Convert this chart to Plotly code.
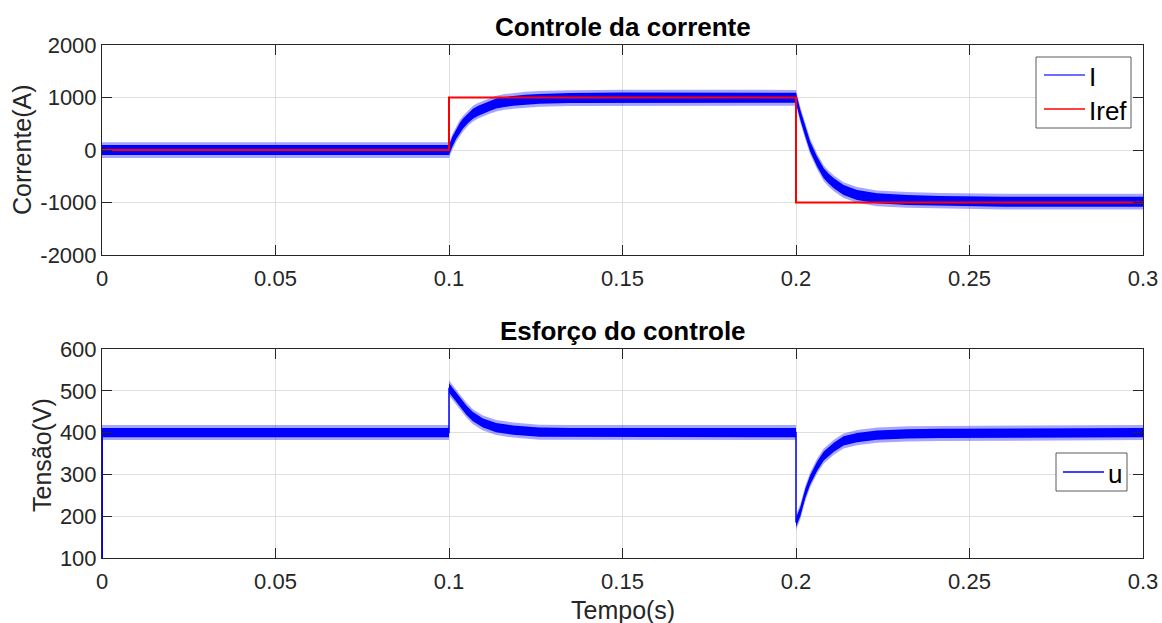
import plotly.graph_objects as go

# ---------------- data ----------------
# Current I: centre of the ripple band and ripple half-widths (A)
t_I = [0, 0.1, 0.1010, 0.1021, 0.1031, 0.104, 0.1055, 0.1069, 0.1083, 0.1098, 0.1117,
       0.1136, 0.116, 0.1185, 0.122, 0.126, 0.1348, 0.15, 0.2,
       0.20125, 0.2027, 0.2041, 0.2061, 0.208, 0.2094, 0.2109, 0.2137, 0.2176,
       0.2233, 0.232, 0.2416, 0.26, 0.3]
I_mid = [0, 0, 160, 308, 420, 500, 610, 692, 745, 788, 840,
         885, 915, 936, 958, 974, 990, 1000, 995,
         667, 349, 63, -222, -444, -545, -635, -762, -857,
         -920, -952, -971, -985, -985]
I_ripple_outer = 150
I_ripple_inner = 95

# Reference current Iref (A)
t_ref = [0, 0.1, 0.1, 0.2, 0.2, 0.3]
I_ref = [0, 0, 1000, 1000, -1000, -1000]

# Control effort u: centre of the ripple band (V)
t_u = [0, 0.1, 0.1, 0.1012, 0.1031, 0.105, 0.1069, 0.1098, 0.1136, 0.1185, 0.126, 0.135,
       0.2, 0.2, 0.20125, 0.2027, 0.2041, 0.2061, 0.208, 0.2109, 0.2137, 0.2176,
       0.2233, 0.232, 0.2416, 0.3]
u_mid = [400, 400, 507, 495, 474, 454, 438, 423, 412, 406, 401, 400,
         400, 185, 211, 255, 287, 320, 344, 365, 380, 388,
         394, 397, 398, 400]
u_ripple_outer = 18
u_ripple_inner = 11
# initial jump of u at t = 0
t_u_start = [0, 0]
u_start = [100, 400]

x_ticks = [0, 0.05, 0.1, 0.15, 0.2, 0.25, 0.3]
x_tick_labels = ["0", "0.05", "0.1", "0.15", "0.2", "0.25", "0.3"]
I_ticks = [-2000, -1000, 0, 1000, 2000]
I_tick_labels = ["-2000", "-1000", "0", "1000", "2000"]
u_ticks = [100, 200, 300, 400, 500, 600]
u_tick_labels = ["100", "200", "300", "400", "500", "600"]

# ---------------- figure ----------------
FONT = "Liberation Sans, Arial, sans-serif"
DARK = "rgb(38,38,38)"
GRID = "rgb(223,223,223)"
BLUE = "rgb(0,0,255)"
RED = "rgb(255,0,0)"

H, W = 623, 1162
mt, mb, ml, mr = 45, 65, 102, 19
ph = H - mt - mb
pw = W - ml - mr


def px(X):
    return (X - ml) / pw


def py(Y):
    return (H - mb - Y) / ph


def band(t, mid, half, color, xa, ya):
    up = [m + half for m in mid]
    lo = [m - half for m in mid]
    return go.Scatter(x=list(t) + list(t)[::-1], y=up + lo[::-1], fill="toself",
                      fillcolor=color, line=dict(width=0), mode="lines",
                      hoverinfo="skip", showlegend=False, xaxis=xa, yaxis=ya)


fig = go.Figure()
# current
fig.add_trace(band(t_I, I_mid, I_ripple_outer, "rgba(0,0,255,0.35)", "x", "y"))
fig.add_trace(band(t_I, I_mid, I_ripple_inner, BLUE, "x", "y"))
fig.add_trace(go.Scatter(x=t_I, y=I_mid, mode="lines", name="I",
                         line=dict(color=BLUE, width=1.5),
                         xaxis="x", yaxis="y", showlegend=False))
fig.add_trace(go.Scatter(x=t_ref, y=I_ref, mode="lines", name="Iref",
                         line=dict(color=RED, width=2),
                         xaxis="x", yaxis="y", showlegend=False))
# control effort
fig.add_trace(band(t_u, u_mid, u_ripple_outer, "rgba(0,0,255,0.35)", "x2", "y2"))
fig.add_trace(band(t_u, u_mid, u_ripple_inner, BLUE, "x2", "y2"))
fig.add_trace(go.Scatter(x=t_u_start, y=u_start, mode="lines", showlegend=False,
                         line=dict(color=BLUE, width=2),
                         xaxis="x2", yaxis="y2", hoverinfo="skip"))
fig.add_trace(go.Scatter(x=t_u, y=u_mid, mode="lines", name="u",
                         line=dict(color=BLUE, width=1.5),
                         xaxis="x2", yaxis="y2", showlegend=False))

axis_common = dict(showline=True, linecolor=DARK, linewidth=1, mirror="ticks",
                   ticks="inside", ticklen=10, tickcolor=DARK, showgrid=True,
                   gridcolor=GRID, gridwidth=1, zeroline=False, automargin=False,
                   tickfont=dict(family=FONT, size=22, color=DARK))

# ---- legends drawn as boxes (MATLAB style) ----
shapes = []
annotations = []


def add_legend(box, entries):
    x0, y0, x1, y1 = box
    shapes.append(dict(type="rect", xref="paper", yref="paper",
                       x0=px(x0), x1=px(x1), y0=py(y1), y1=py(y0),
                       fillcolor="white", line=dict(color="rgb(90,90,90)", width=1),
                       layer="above"))
    for (lx0, lx1, ly, color, label) in entries:
        shapes.append(dict(type="line", xref="paper", yref="paper",
                           x0=px(lx0), x1=px(lx1), y0=py(ly), y1=py(ly),
                           line=dict(color=color, width=1.5), layer="above"))
        annotations.append(dict(text=label, x=px(lx1 + 2), y=py(ly + 2),
                                xref="paper", yref="paper", showarrow=False,
                                xanchor="left", yanchor="middle",
                                font=dict(family=FONT, size=26, color="black")))


add_legend((1036, 57, 1131, 128),
           [(1044, 1085, 75, "rgb(60,60,255)", "I"),
            (1044, 1085, 109, RED, "Iref")])
add_legend((1056, 453, 1127, 491),
           [(1063, 1104, 472, BLUE, "u")])

annotations += [
    dict(text="<b>Controle da corrente</b>", x=0.5, xref="paper",
         y=py(27), yref="paper", showarrow=False,
         xanchor="center", yanchor="middle",
         font=dict(family=FONT, size=26, color="black")),
    dict(text="<b>Esforço do controle</b>", x=0.5, xref="paper",
         y=py(331), yref="paper", showarrow=False,
         xanchor="center", yanchor="middle",
         font=dict(family=FONT, size=26, color="black")),
    dict(text="Corrente(A)", x=px(22), xref="paper",
         y=py(150), yref="paper", showarrow=False, textangle=-90,
         xanchor="center", yanchor="middle",
         font=dict(family=FONT, size=25, color=DARK)),
    dict(text="Tensão(V)", x=px(42), xref="paper",
         y=py(455), yref="paper", showarrow=False, textangle=-90,
         xanchor="center", yanchor="middle",
         font=dict(family=FONT, size=25, color=DARK)),
    dict(text="Tempo(s)", x=0.5, xref="paper",
         y=py(610), yref="paper", showarrow=False,
         xanchor="center", yanchor="middle",
         font=dict(family=FONT, size=25, color=DARK)),
]

fig.update_layout(
    width=W, height=H,
    margin=dict(l=ml, r=mr, t=mt, b=mb, autoexpand=False),
    plot_bgcolor="white", paper_bgcolor="white",
    font=dict(family=FONT, color=DARK),
    xaxis=dict(domain=[0, 1], anchor="y", range=[0, 0.3], tickvals=x_ticks,
               ticktext=x_tick_labels, ticklabelstandoff=4, **axis_common),
    yaxis=dict(domain=[1 - 210 / ph, 1], anchor="x", range=[-2000, 2000],
               tickvals=I_ticks, ticktext=I_tick_labels, **axis_common),
    xaxis2=dict(domain=[0, 1], anchor="y2", range=[0, 0.3], tickvals=x_ticks,
                ticktext=x_tick_labels, ticklabelstandoff=4, **axis_common),
    yaxis2=dict(domain=[0, 209 / ph], anchor="x2", range=[100, 600],
                tickvals=u_ticks, ticktext=u_tick_labels, **axis_common),
    showlegend=False,
    shapes=shapes,
    annotations=annotations,
)

fig.write_html("out.html", config={"displayModeBar": False},
               post_script="document.body.style.margin='0';"
                           "document.body.style.overflow='hidden';")
